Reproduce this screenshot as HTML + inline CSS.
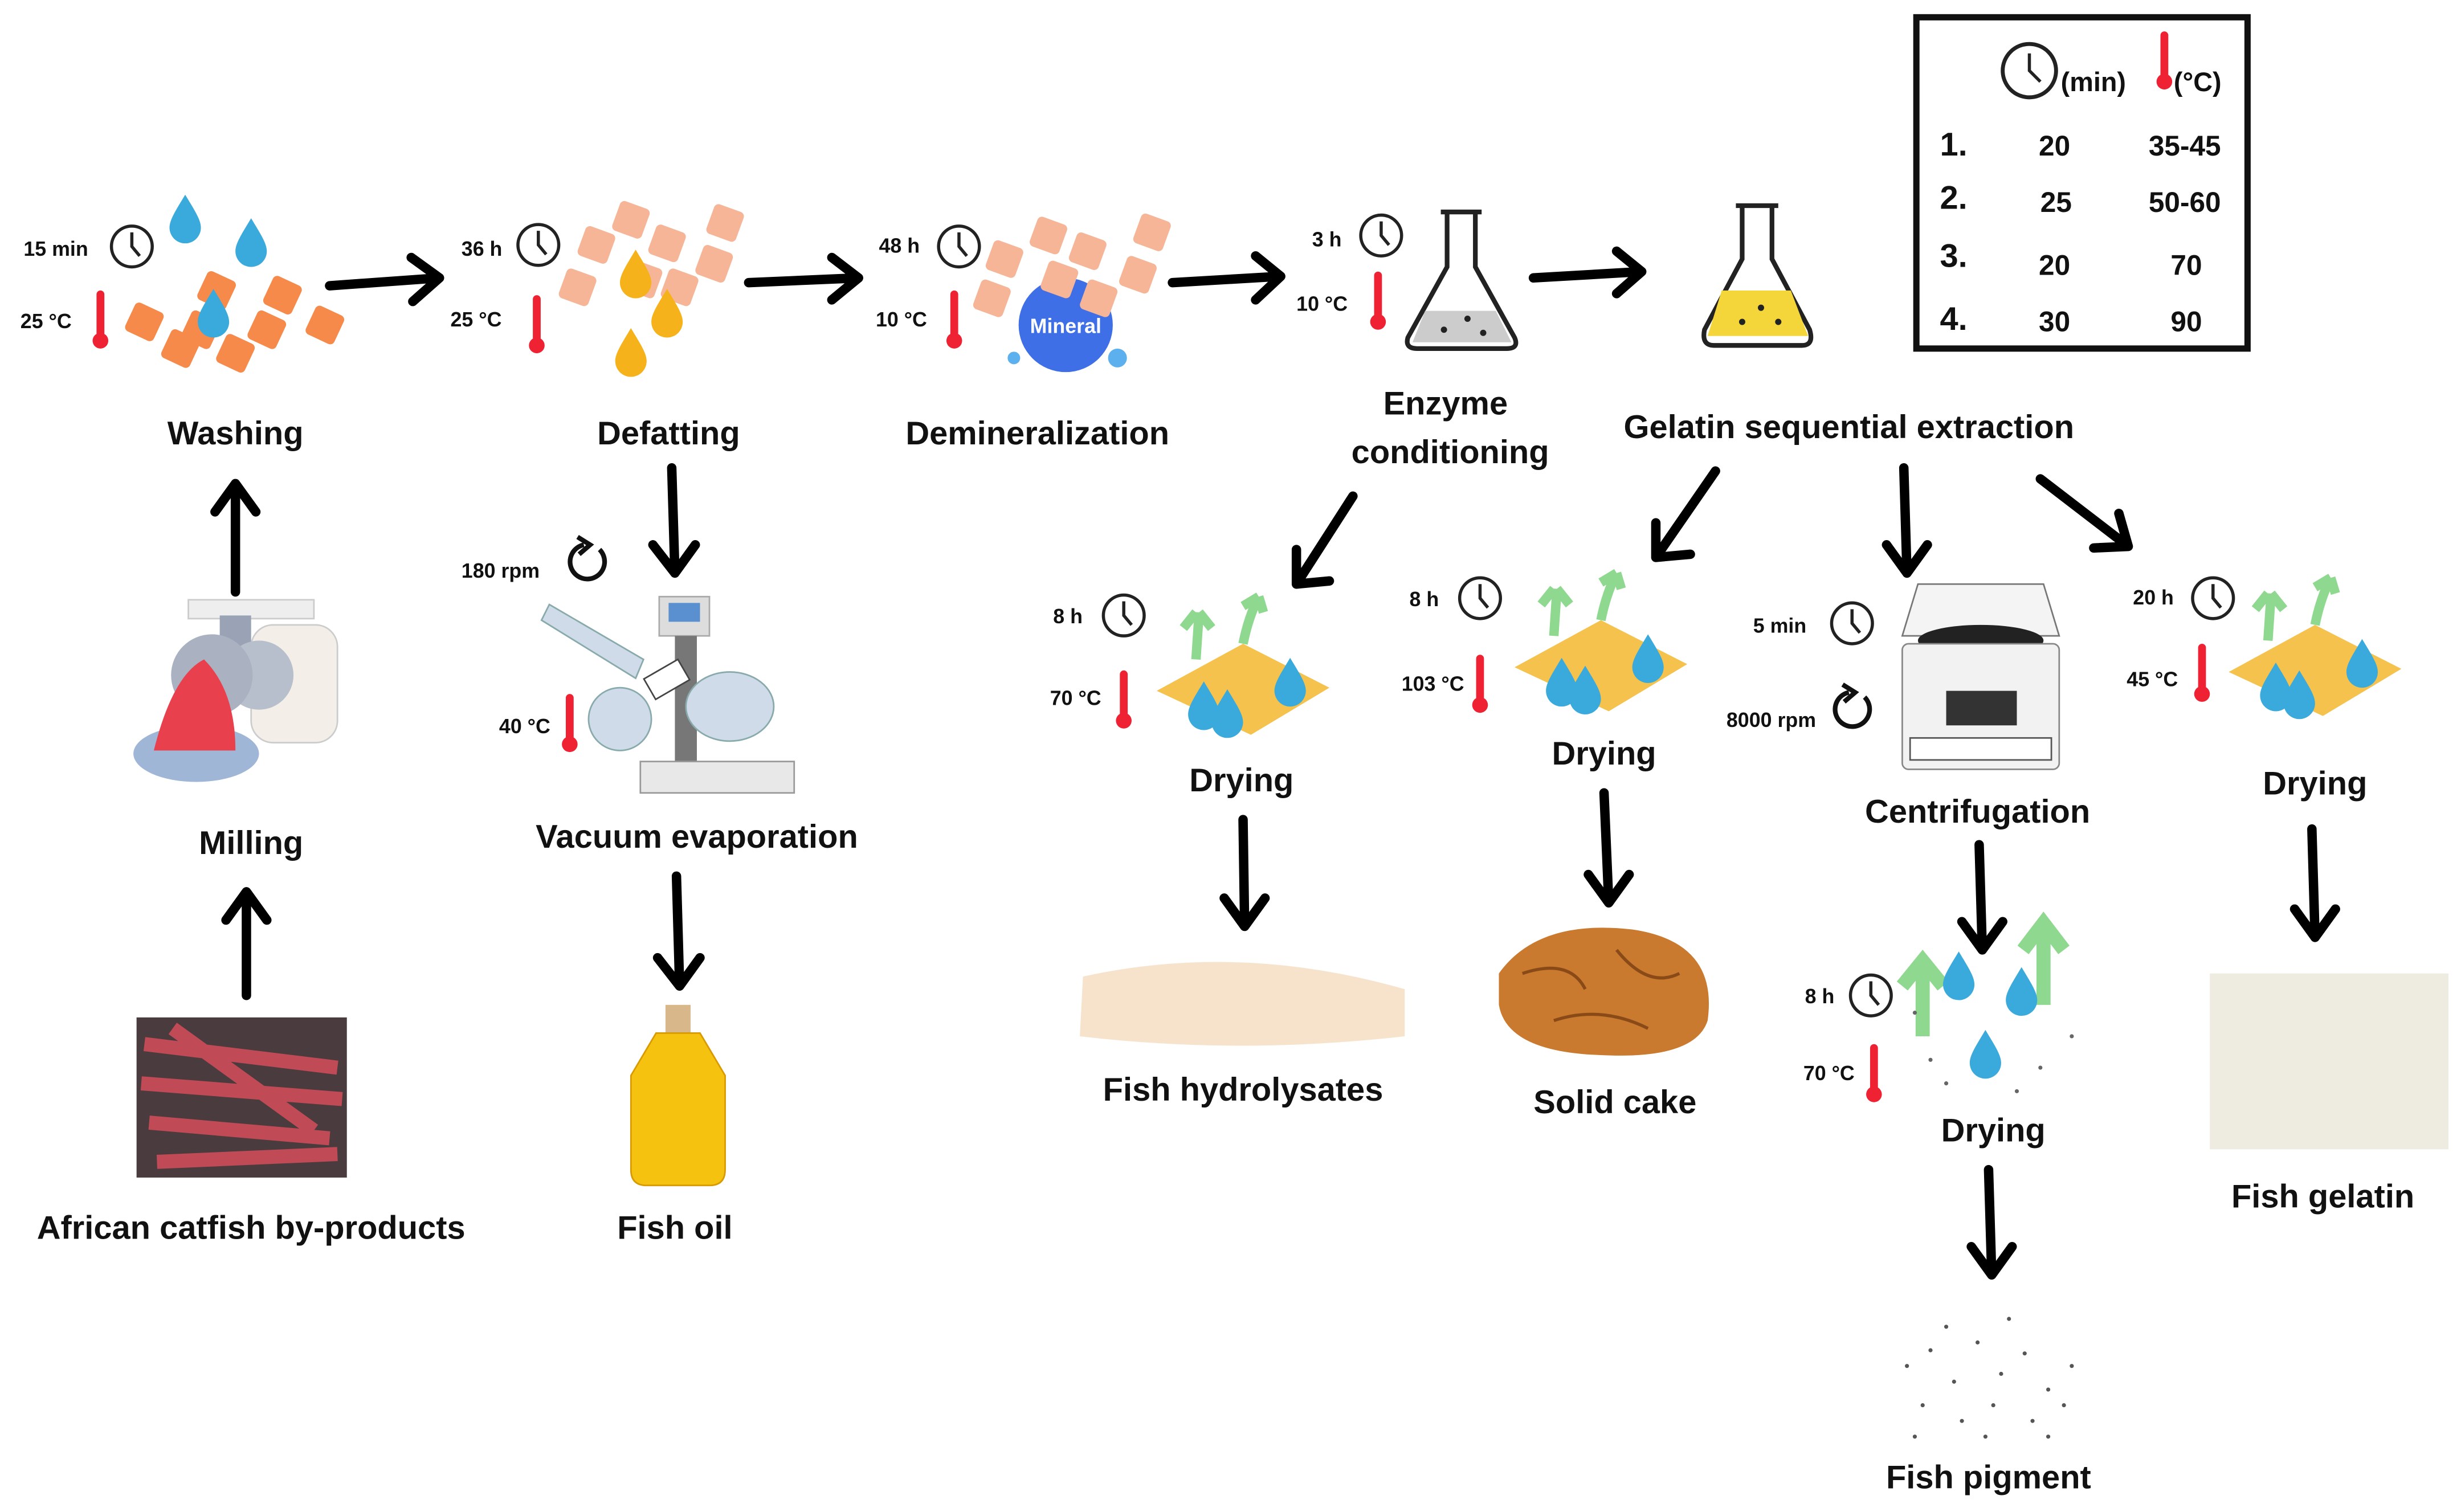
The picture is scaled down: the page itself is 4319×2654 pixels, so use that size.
<!DOCTYPE html>
<html><head><meta charset="utf-8">
<style>
html,body{margin:0;padding:0;background:#fff;}
svg{display:block;}
text{font-family:"Liberation Sans",sans-serif;font-weight:bold;fill:#111;}
.L{font-size:21px;}
.s{font-size:13px;}
.ar{stroke:#000;stroke-width:6;fill:none;stroke-linecap:round;stroke-linejoin:round;}
</style></head><body>
<svg width="4319" height="2654" viewBox="0 0 1568 963" preserveAspectRatio="none" xmlns="http://www.w3.org/2000/svg">
<defs>
<g id="clk"><circle r="13" fill="#fff" stroke="#222" stroke-width="2"/><path d="M0,-9 L0,0 L5,6" stroke="#222" stroke-width="2" fill="none"/></g>
<g id="thr"><rect x="-2.5" y="-20" width="5" height="30" rx="2.5" fill="#e23"/><circle cy="12" r="5" fill="#e23"/></g>
<g id="cube"><rect x="-10" y="-10" width="20" height="20" rx="3" fill="#f58a4b" transform="rotate(25)"/></g>
<g id="pcube"><rect x="-10" y="-10" width="20" height="20" rx="3" fill="#f6b597" transform="rotate(20)"/></g>
<g id="drop"><path d="M0,-16 C6,-6 10,0 10,5 A10,10 0 0 1 -10,5 C-10,0 -6,-6 0,-16Z" fill="#3aa9dc"/></g>
<g id="ydrop"><path d="M0,-16 C6,-6 10,0 10,5 A10,10 0 0 1 -10,5 C-10,0 -6,-6 0,-16Z" fill="#f5b21a"/></g>
<g id="sheet"><path d="M-55,10 L0,-20 L55,8 L5,38Z" fill="#f4c24d"/><path d="M-30,-10 L-28,-40 M-30,-40 l-8,10 M-28,-40 l8,10" stroke="#8fd88f" stroke-width="6" fill="none"/><path d="M0,-20 C2,-30 5,-40 10,-50 M10,-50 l-10,6 M10,-50 l3,10" stroke="#8fd88f" stroke-width="6" fill="none"/><use href="#drop" x="-25" y="20"/><use href="#drop" x="-10" y="25"/><use href="#drop" x="30" y="5"/></g>
<g id="rot"><path d="M8,-8 A11,11 0 1 1 -2,-11" stroke="#111" stroke-width="3" fill="none"/><path d="M-6,-16 L2,-11 L-5,-5" stroke="#111" stroke-width="3" fill="none"/></g>
</defs>
<rect width="1568" height="963" fill="#fff"/>

<!-- table -->
<rect x="1221" y="11" width="211" height="211" fill="#fff" stroke="#111" stroke-width="4"/>
<circle cx="1293" cy="45" r="17" fill="#fff" stroke="#222" stroke-width="2.5"/>
<path d="M1293,34 L1293,45 L1300,52" stroke="#222" stroke-width="2" fill="none"/>
<text x="1313" y="58" style="font-size:17px">(min)</text>
<use href="#thr" x="1379" y="40"/>
<text x="1385" y="58" style="font-size:17px">(°C)</text>
<g style="font-size:18px">
<text x="1236" y="99" style="font-size:21px">1.</text><text x="1299" y="99">20</text><text x="1369" y="99">35-45</text>
<text x="1236" y="133" style="font-size:21px">2.</text><text x="1300" y="135">25</text><text x="1369" y="135">50-60</text>
<text x="1236" y="170" style="font-size:21px">3.</text><text x="1299" y="175">20</text><text x="1383" y="175">70</text>
<text x="1236" y="210" style="font-size:21px">4.</text><text x="1299" y="211">30</text><text x="1383" y="211">90</text>
</g>

<!-- washing -->
<text class="s" x="15" y="163">15 min</text><use href="#clk" x="84" y="157"/>
<text class="s" x="13" y="209">25 °C</text><use href="#thr" x="64" y="205"/>
<use href="#cube" x="92" y="205"/><use href="#cube" x="115" y="222"/><use href="#cube" x="138" y="185"/><use href="#cube" x="150" y="225"/><use href="#cube" x="170" y="210"/><use href="#cube" x="180" y="188"/><use href="#cube" x="207" y="207"/><use href="#cube" x="128" y="210"/>
<use href="#drop" x="118" y="140"/><use href="#drop" x="160" y="155"/><use href="#drop" x="136" y="200"/>
<text class="L" x="150" y="283" text-anchor="middle">Washing</text>
<path class="ar" d="M210,182 L280,177 M262,164 L280,177 L263,192"/>

<!-- defatting -->
<text class="s" x="294" y="163">36 h</text><use href="#clk" x="343" y="156"/>
<text class="s" x="287" y="208">25 °C</text><use href="#thr" x="342" y="208"/>
<use href="#pcube" x="380" y="156"/><use href="#pcube" x="402" y="140"/><use href="#pcube" x="425" y="155"/><use href="#pcube" x="462" y="142"/><use href="#pcube" x="455" y="168"/><use href="#pcube" x="368" y="183"/><use href="#pcube" x="433" y="183"/><use href="#pcube" x="410" y="178"/>
<use href="#ydrop" x="405" y="175"/><use href="#ydrop" x="425" y="200"/><use href="#ydrop" x="402" y="225"/>
<text class="L" x="426" y="283" text-anchor="middle">Defatting</text>
<path class="ar" d="M477,180 L547,177 M530,164 L547,177 L530,191"/>

<!-- demineralization -->
<text class="s" x="560" y="161">48 h</text><use href="#clk" x="611" y="157"/>
<text class="s" x="558" y="208">10 °C</text><use href="#thr" x="608" y="205"/>
<circle cx="679" cy="207" r="30" fill="#3f6fe6"/>
<text x="679" y="212" text-anchor="middle" style="font-size:13px;fill:#fff">Mineral</text>
<use href="#pcube" x="640" y="165"/><use href="#pcube" x="668" y="150"/><use href="#pcube" x="693" y="160"/><use href="#pcube" x="734" y="148"/><use href="#pcube" x="725" y="175"/><use href="#pcube" x="632" y="190"/><use href="#pcube" x="700" y="190"/><use href="#pcube" x="675" y="178"/>
<circle cx="712" cy="228" r="6" fill="#5cb0ee"/><circle cx="646" cy="228" r="4" fill="#5cb0ee"/>
<text class="L" x="661" y="283" text-anchor="middle">Demineralization</text>
<path class="ar" d="M747,180 L816,176 M800,163 L816,176 L800,191"/>

<!-- enzyme -->
<text class="s" x="836" y="157">3 h</text><use href="#clk" x="880" y="150"/>
<text class="s" x="826" y="198">10 °C</text><use href="#thr" x="878" y="193"/>
<path d="M918,135 L944,135 M922,135 L922,170 L897,215 Q895,222 903,222 L960,222 Q968,222 965,215 L940,170 L940,135" fill="#fff" stroke="#222" stroke-width="3"/>
<path d="M908,198 L953,198 L963,218 L900,218Z" fill="#ccc"/>
<circle cx="920" cy="210" r="2" fill="#222"/><circle cx="935" cy="203" r="2" fill="#222"/><circle cx="945" cy="212" r="2" fill="#222"/>
<text class="L" x="921" y="264" text-anchor="middle">Enzyme</text>
<text class="L" x="924" y="295" text-anchor="middle">conditioning</text>
<path class="ar" d="M977,177 L1046,173 M1030,160 L1046,173 L1030,187"/>

<!-- gelatin flask -->
<path d="M1106,131 L1133,131 M1110,131 L1110,165 L1086,210 Q1084,220 1092,220 L1148,220 Q1156,220 1153,210 L1129,165 L1129,131" fill="#fff" stroke="#222" stroke-width="3"/>
<path d="M1097,185 L1141,185 L1152,214 L1088,214Z" fill="#f5d63a"/>
<circle cx="1110" cy="205" r="2" fill="#222"/><circle cx="1122" cy="196" r="2" fill="#222"/><circle cx="1133" cy="205" r="2" fill="#222"/>
<text class="L" x="1178" y="279" text-anchor="middle">Gelatin sequential extraction</text>

<!-- milling -->
<path class="ar" d="M150,377 L150,308 M137,326 L150,308 L163,326"/>
<rect x="120" y="382" width="80" height="12" fill="#eee" stroke="#ccc"/>
<rect x="160" y="398" width="55" height="75" rx="14" fill="#f3efe8" stroke="#ccc"/>
<rect x="140" y="392" width="20" height="40" fill="#9aa3b5"/>
<circle cx="165" cy="430" r="22" fill="#b8bfcc"/>
<circle cx="135" cy="430" r="26" fill="#aab2c2"/>
<ellipse cx="125" cy="480" rx="40" ry="18" fill="#9fb6d6"/>
<path d="M98,478 Q110,430 130,420 Q150,440 150,478Z" fill="#e8404c"/>
<text class="L" x="160" y="544" text-anchor="middle">Milling</text>
<path class="ar" d="M157,634 L157,568 M144,586 L157,568 L170,586"/>
<rect x="87" y="648" width="134" height="102" fill="#4a3b3e"/>
<path d="M92,665 L215,680 M90,690 L218,700 M95,715 L210,725 M100,740 L215,735 M110,655 L200,720" stroke="#c04a55" stroke-width="9"/>
<text class="L" x="160" y="789" text-anchor="middle">African catfish by-products</text>

<!-- vacuum -->
<path class="ar" d="M428,298 L430,365 M416,347 L430,365 L443,347"/>
<text class="s" x="294" y="368">180 rpm</text><use href="#rot" x="374" y="358"/>
<text class="s" x="318" y="467">40 °C</text><use href="#thr" x="363" y="462"/>
<rect x="420" y="380" width="32" height="25" fill="#ddd" stroke="#aaa"/>
<rect x="426" y="384" width="20" height="12" fill="#5a8fd0"/>
<rect x="430" y="405" width="14" height="85" fill="#777"/>
<path d="M345,395 L350,385 L410,420 L405,432Z" fill="#cfdbe8" stroke="#8aa"/>
<circle cx="395" cy="458" r="20" fill="#cfdbe8" stroke="#8aa"/>
<ellipse cx="465" cy="450" rx="28" ry="22" fill="#cfdbe8" stroke="#8aa"/>
<rect x="408" y="485" width="98" height="20" fill="#e8e8e8" stroke="#999"/>
<rect x="412" y="425" width="25" height="15" fill="#fff" stroke="#444" transform="rotate(-30 425 432)"/>
<text class="L" x="444" y="540" text-anchor="middle">Vacuum evaporation</text>
<path class="ar" d="M431,558 L433,628 M419,610 L433,628 L446,610"/>
<rect x="424" y="640" width="16" height="18" fill="#d8b88a"/>
<path d="M418,658 L446,658 L462,685 L462,745 Q462,755 452,755 L412,755 Q402,755 402,745 L402,685Z" fill="#f5c20f" stroke="#d89a00"/>
<text class="L" x="430" y="789" text-anchor="middle">Fish oil</text>

<!-- branch 1 -->
<path class="ar" d="M862,316 L826,372 M826,350 L826,372 L847,370"/>
<text class="s" x="671" y="397">8 h</text><use href="#clk" x="716" y="392"/>
<text class="s" x="669" y="449">70 °C</text><use href="#thr" x="716" y="447"/>
<use href="#sheet" x="792" y="430"/>
<text class="L" x="791" y="504" text-anchor="middle">Drying</text>
<path class="ar" d="M792,522 L793,590 M780,572 L793,590 L806,572"/>
<path d="M690,622 Q790,600 895,630 L895,660 Q790,672 688,660Z" fill="#f7e3cc"/>
<text class="L" x="792" y="701" text-anchor="middle">Fish hydrolysates</text>

<!-- branch 2 -->
<path class="ar" d="M1093,300 L1055,355 M1055,333 L1055,355 L1077,353"/>
<text class="s" x="898" y="386">8 h</text><use href="#clk" x="943" y="381"/>
<text class="s" x="893" y="440">103 °C</text><use href="#thr" x="943" y="437"/>
<use href="#sheet" x="1020" y="415"/>
<text class="L" x="1022" y="487" text-anchor="middle">Drying</text>
<path class="ar" d="M1022,505 L1025,575 M1012,557 L1025,575 L1038,557"/>
<path d="M955,620 Q980,585 1040,592 Q1095,600 1088,650 Q1080,675 1020,672 Q960,670 955,640Z" fill="#c97a2e"/>
<path d="M970,620 Q1000,610 1010,630 M1030,605 Q1050,630 1070,620 M990,650 Q1020,640 1050,655" stroke="#8a4a18" stroke-width="2" fill="none"/>
<text class="L" x="1029" y="709" text-anchor="middle">Solid cake</text>

<!-- branch 3 -->
<path class="ar" d="M1213,298 L1215,365 M1202,347 L1215,365 L1228,347"/>
<text class="s" x="1117" y="403">5 min</text><use href="#clk" x="1180" y="397"/>
<text class="s" x="1100" y="463">8000 rpm</text><use href="#rot" x="1180" y="452"/>
<path d="M1222,372 L1302,372 L1312,405 L1212,405Z" fill="#f4f4f4" stroke="#777"/>
<ellipse cx="1262" cy="408" rx="40" ry="10" fill="#222"/>
<rect x="1212" y="410" width="100" height="80" rx="4" fill="#f2f2f2" stroke="#888"/>
<rect x="1240" y="440" width="45" height="22" fill="#333"/>
<rect x="1217" y="470" width="90" height="14" fill="#fff" stroke="#555"/>
<text class="L" x="1260" y="524" text-anchor="middle">Centrifugation</text>
<path class="ar" d="M1261,538 L1263,605 M1250,587 L1263,605 L1276,587"/>
<text class="s" x="1150" y="639">8 h</text><use href="#clk" x="1192" y="634"/>
<text class="s" x="1149" y="688">70 °C</text><use href="#thr" x="1194" y="685"/>
<path d="M1225,660 L1225,615 M1212,628 L1225,612 L1238,628" stroke="#8fd88f" stroke-width="9" fill="none"/>
<path d="M1302,640 L1302,592 M1289,605 L1302,588 L1315,605" stroke="#8fd88f" stroke-width="9" fill="none"/>
<use href="#drop" x="1248" y="622"/><use href="#drop" x="1288" y="632"/><use href="#drop" x="1265" y="672"/>
<g fill="#666"><circle cx="1220" cy="645" r="1.3"/><circle cx="1240" cy="690" r="1.3"/><circle cx="1300" cy="680" r="1.3"/><circle cx="1320" cy="660" r="1.3"/><circle cx="1230" cy="675" r="1.3"/><circle cx="1285" cy="695" r="1.3"/></g>
<text class="L" x="1270" y="727" text-anchor="middle">Drying</text>
<path class="ar" d="M1267,745 L1269,812 M1256,794 L1269,812 L1282,794"/>
<g fill="#555">
<circle cx="1215" cy="870" r="1.3"/><circle cx="1230" cy="860" r="1.3"/><circle cx="1245" cy="880" r="1.3"/><circle cx="1260" cy="855" r="1.3"/><circle cx="1275" cy="875" r="1.3"/><circle cx="1290" cy="862" r="1.3"/><circle cx="1305" cy="885" r="1.3"/><circle cx="1320" cy="870" r="1.3"/><circle cx="1225" cy="895" r="1.3"/><circle cx="1250" cy="905" r="1.3"/><circle cx="1270" cy="895" r="1.3"/><circle cx="1295" cy="905" r="1.3"/><circle cx="1315" cy="895" r="1.3"/><circle cx="1240" cy="845" r="1.3"/><circle cx="1280" cy="840" r="1.3"/><circle cx="1265" cy="915" r="1.3"/><circle cx="1220" cy="915" r="1.3"/><circle cx="1305" cy="915" r="1.3"/>
</g>
<text class="L" x="1267" y="948" text-anchor="middle">Fish pigment</text>

<!-- branch 4 -->
<path class="ar" d="M1300,305 L1356,348 M1334,349 L1356,348 L1350,327"/>
<text class="s" x="1359" y="385">20 h</text><use href="#clk" x="1410" y="381"/>
<text class="s" x="1355" y="437">45 °C</text><use href="#thr" x="1403" y="430"/>
<use href="#sheet" x="1475" y="418"/>
<text class="L" x="1475" y="506" text-anchor="middle">Drying</text>
<path class="ar" d="M1473,528 L1475,597 M1462,579 L1475,597 L1488,579"/>
<rect x="1408" y="620" width="152" height="112" fill="#eeebe0"/>
<text class="L" x="1480" y="769" text-anchor="middle">Fish gelatin</text>
</svg>
</body></html>
